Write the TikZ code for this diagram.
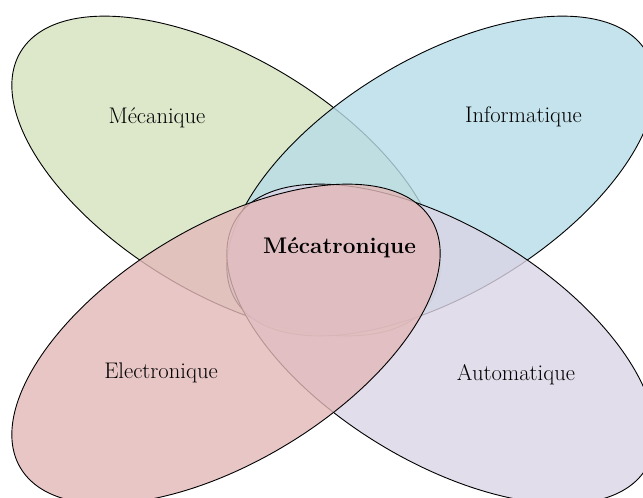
\documentclass[tikz,border=0pt]{standalone}
\usepackage{fontspec}
\definecolor{cgreen}{RGB}{212,226,190}
\definecolor{cblue}{RGB}{182,220,231}
\definecolor{cred}{RGB}{227,184,184}
\definecolor{cpurple}{RGB}{219,212,229}
\tikzset{
  venn/.style={draw=black, line width=0.9pt, fill opacity=0.8},
  lbl/.style={font=\fontsize{22.6}{26}\selectfont, inner sep=0pt},
}
\begin{document}
\begin{tikzpicture}[x=1pt,y=1pt]
\useasboundingbox (0,0) rectangle (643,498);
\begin{scope}
\clip (0,0) rectangle (643,498);
\draw[venn, fill=cgreen, shift={(226,322)}, rotate=-31.2] (0,0) ellipse [x radius=240pt, y radius=117.5pt];
\draw[venn, fill=cblue, shift={(441,322)}, rotate=31.2] (0,0) ellipse [x radius=240pt, y radius=117.5pt];
\draw[venn, fill=cpurple, shift={(441,154)}, rotate=-31.2] (0,0) ellipse [x radius=240pt, y radius=117.5pt];
\draw[venn, fill=cred, shift={(226,154)}, rotate=31.2] (0,0) ellipse [x radius=240pt, y radius=117.5pt];
\end{scope}
\node[lbl] (meca) at (157,380) {Mécanique};
\node[lbl] (info) at (523.5,381) {Informatique};
\node[lbl] (elec) at (161,125.5) {Electronique};
\node[lbl] (auto) at (516,123.5) {Automatique};
\node[lbl, font=\fontsize{22.6}{26}\selectfont\bfseries] (mecat) at (339.5,250) {Mécatronique};
\end{tikzpicture}
\end{document}
